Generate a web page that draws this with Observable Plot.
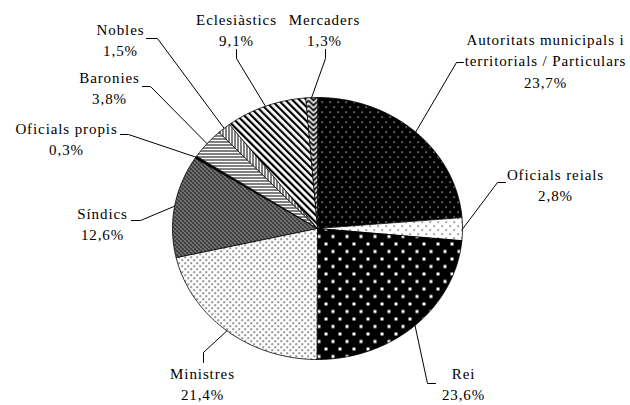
<!DOCTYPE html>
<html>
<head>
<meta charset="utf-8">
<script src="https://cdn.jsdelivr.net/npm/d3@7"></script>
<script src="https://cdn.jsdelivr.net/npm/@observablehq/plot@0.6"></script>
<style>
  html, body { margin: 0; padding: 0; background: #fff; }
  svg text { font-family: "Liberation Serif", LiberationSerif, "Times New Roman", Times, "DejaVu Serif", "Noto Serif", serif !important; }
</style>
</head>
<body>
<div id="chart"></div>
<script>
// ---- data (clockwise from 12 o'clock) ----
const categories = [
  "Autoritats municipals i\nterritorials / Particulars",
  "Oficials reials",
  "Rei",
  "Ministres",
  "Síndics",
  "Oficials propis",
  "Baronies",
  "Nobles",
  "Eclesiàstics",
  "Mercaders"
];
const values = [23.7, 2.8, 23.6, 21.4, 12.6, 0.3, 3.8, 1.5, 9.1, 1.3];

// ---- styles: fill pattern per slice ----
const patterns = ["pAut", "pOfr", "pRei", "pMin", "pSin", "pOfp", "pBar", "pNob", "pEcl", "pMer"];

// ---- layout (pixel offsets from pie centre, y downwards) ----
const W = 630, H = 405, CX = 317, CY = 228, RX = 145, RY = 131;
const labelCenters = [[228, -169], [238, -45], [146, 154], [-115, 154], [-215, -6],
                      [-251, -91], [-208, -142], [-197, -190], [-81, -200], [7, -200]];
const leaderElbows = [[139, -166], [180, -46], [110, 155], [-114, 124], [-177, -8],
                      [-189, -94], [-167, -142], [-160, -190], [-81, -170], [8, -170]];
const leaderStubs  = [[146, -166], [188, -46], [118, 155], [-114, 134], [-186, -8],
                      [-197, -94], [-175, -142], [-171, -190], [-81, -179], [8, -179]];

// ---- build geometry from data ----
const arcs = d3.pie().sort(null).value(d => d)(values);
const wedges = [];
arcs.forEach((a, i) => {
  wedges.push({key: i, x: 0, y: 0, pat: `url(#${patterns[i]})`});
  const n = Math.max(2, Math.ceil((a.endAngle - a.startAngle) / (Math.PI / 180)));
  for (let k = 0; k <= n; k++) {
    const t = a.startAngle + (a.endAngle - a.startAngle) * k / n;
    wedges.push({key: i, x: RX * Math.sin(t), y: -RY * Math.cos(t), pat: `url(#${patterns[i]})`});
  }
});
const leaders = [];
arcs.forEach((a, i) => {
  const m = (a.startAngle + a.endAngle) / 2;
  leaders.push({key: i, x: RX * Math.sin(m), y: -RY * Math.cos(m)});
  leaders.push({key: i, x: leaderElbows[i][0], y: leaderElbows[i][1]});
  leaders.push({key: i, x: leaderStubs[i][0], y: leaderStubs[i][1]});
});
const fmt = v => v.toFixed(1).replace(".", ",") + "%";
const labels = categories.map((c, i) => ({
  text: c + "\n" + fmt(values[i]),
  x: labelCenters[i][0], y: labelCenters[i][1]
}));

const serif = "Liberation Serif";
const svg = Plot.plot({
  width: W, height: H, margin: 0,
  x: {domain: [-CX, W - CX], range: [0, W], axis: null},
  y: {domain: [-CY, H - CY], range: [0, H], axis: null},
  color: {type: "identity"},
  style: {background: "#fff", color: "#000", letterSpacing: "0.9px"},
  marks: [
    Plot.line(wedges, {x: "x", y: "y", z: "key", fill: "pat", stroke: "#000", strokeWidth: 0.8, curve: "linear-closed"}),
    Plot.line(leaders, {x: "x", y: "y", z: "key", stroke: "#000", strokeWidth: 1}),
    Plot.text(labels, {x: "x", y: "y", text: "text", fontFamily: serif, fontSize: 15, lineHeight: 1.43, lineAnchor: "middle", textAnchor: "middle", fill: "#000"})
  ]
});

// pattern definitions
const defs = `
<defs>
  <pattern id="pAut" patternUnits="userSpaceOnUse" width="8" height="10">
    <rect width="8" height="10" fill="#000"/>
    <rect x="1" y="1" width="1.2" height="1.2" fill="#fff"/>
    <rect x="5" y="6" width="1.2" height="1.2" fill="#fff"/>
  </pattern>
  <pattern id="pOfr" patternUnits="userSpaceOnUse" width="8" height="8">
    <rect width="8" height="8" fill="#fff"/>
    <rect x="1" y="1" width="1.2" height="1.2" fill="#000"/>
    <rect x="5" y="5" width="1.2" height="1.2" fill="#000"/>
  </pattern>
  <pattern id="pRei" patternUnits="userSpaceOnUse" width="14" height="15">
    <rect width="14" height="15" fill="#000"/>
    <rect x="2" y="2" width="3" height="3" fill="#fff"/>
    <rect x="9" y="9.5" width="3" height="3" fill="#fff"/>
  </pattern>
  <pattern id="pMin" patternUnits="userSpaceOnUse" width="6" height="6">
    <rect width="6" height="6" fill="#fff"/>
    <rect x="1" y="1" width="1.3" height="1.3" fill="#000"/>
    <rect x="4" y="4" width="1.3" height="1.3" fill="#000"/>
  </pattern>
  <pattern id="pSin" patternUnits="userSpaceOnUse" width="4" height="4">
    <rect width="4" height="4" fill="#4a4a4a"/>
    <rect x="0" y="0" width="1" height="1" fill="#fff"/>
    <rect x="2" y="2" width="1" height="1" fill="#fff"/>
    <rect x="1" y="3" width="1" height="1" fill="#000"/>
    <rect x="3" y="1" width="1" height="1" fill="#000"/>
  </pattern>
  <pattern id="pOfp" patternUnits="userSpaceOnUse" width="4" height="4">
    <rect width="4" height="4" fill="#000"/>
  </pattern>
  <pattern id="pBar" patternUnits="userSpaceOnUse" width="4" height="3">
    <rect width="4" height="3" fill="#fff"/>
    <rect x="0" y="0" width="4" height="1" fill="#000"/>
  </pattern>
  <pattern id="pNob" patternUnits="userSpaceOnUse" width="3" height="4">
    <rect width="3" height="4" fill="#fff"/>
    <rect x="0" y="0" width="1" height="4" fill="#000"/>
  </pattern>
  <pattern id="pEcl" patternUnits="userSpaceOnUse" width="5" height="5" patternTransform="rotate(-45)">
    <rect width="5" height="5" fill="#fff"/>
    <rect x="0" y="0" width="2.2" height="5" fill="#000"/>
  </pattern>
  <pattern id="pMer" patternUnits="userSpaceOnUse" x="-2" width="10" height="5">
    <rect width="10" height="5" fill="#fff"/>
    <path d="M0,-5 L5,0 L10,-5 M0,0 L5,5 L10,0 M0,5 L5,10 L10,5" stroke="#000" stroke-width="1.8" fill="none"/>
  </pattern>
</defs>`;
svg.insertAdjacentHTML("afterbegin", defs);
document.getElementById("chart").appendChild(svg);
</script>
</body>
</html>
